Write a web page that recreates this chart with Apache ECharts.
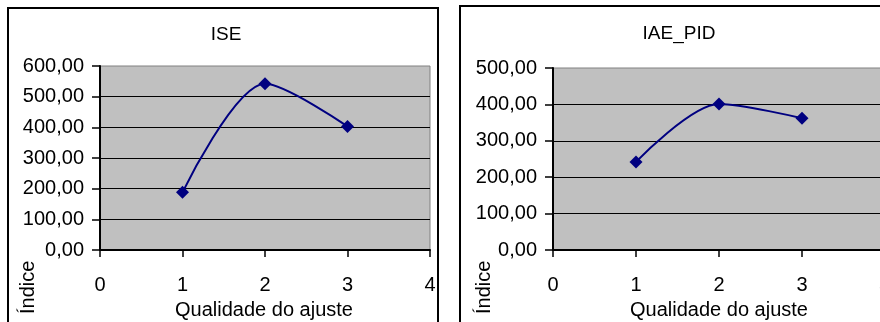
<!DOCTYPE html>
<html>
<head>
<meta charset="utf-8">
<script src="https://cdn.jsdelivr.net/npm/echarts@6/dist/echarts.min.js"></script>
<style>
  html, body { margin: 0; padding: 0; background: #fff; }
  #chart { width: 880px; height: 322px; }
</style>
</head>
<body>
<div id="chart"></div>
<script>
// ---- data ----
const xQuality = [1, 2, 3];
const iseValues = [188, 542, 403];
const iaeValues = [242, 401, 362];
const titles = ['ISE', 'IAE_PID'];
const xAxisName = 'Qualidade do ajuste';
const yAxisName = 'Índice';
const yMaxes = [600, 500];

const FONT = '"Liberation Sans", Arial, sans-serif';
const fmt = v => v.toFixed(2).replace('.', ',');

function xAxis(gridIndex) {
  return {
    type: 'value', gridIndex, min: 0, max: 4, interval: 1,
    axisLine: { show: true, onZero: false, lineStyle: { color: '#000', width: 2 } },
    axisTick: { show: true, inside: false, length: 7, lineStyle: { color: '#000', width: 1.5 } },
    axisLabel: { color: '#000', fontFamily: FONT, fontSize: 20, margin: 25, hideOverlap: false },
    splitLine: { show: false }
  };
}
function yAxis(gridIndex, max) {
  return {
    type: 'value', gridIndex, min: 0, max, interval: 100,
    axisLine: { show: true, lineStyle: { color: '#000', width: 2 } },
    axisTick: { show: true, inside: false, length: 8, lineStyle: { color: '#000', width: 1.5 } },
    axisLabel: { color: '#000', fontFamily: FONT, fontSize: 20, margin: 16, formatter: fmt },
    splitLine: { show: true, showMinLine: false, showMaxLine: false, lineStyle: { color: '#000', width: 1 } }
  };
}
function series(idx, vals) {
  return {
    type: 'line', xAxisIndex: idx, yAxisIndex: idx,
    data: xQuality.map((x, i) => [x, vals[i]]),
    smooth: 0.3,
    symbol: 'diamond', symbolSize: 13, showSymbol: true,
    lineStyle: { color: '#000080', width: 2 },
    itemStyle: { color: '#000080' },
    clip: false,
    silent: true, animation: false
  };
}

const chart = echarts.init(document.getElementById('chart'), null, { renderer: 'canvas' });
chart.setOption({
  animation: false,
  backgroundColor: '#fff',
  grid: [
    { left: 100, top: 66, width: 330, height: 184, containLabel: false, outerBoundsMode: 'none', show: true, backgroundColor: '#C0C0C0', borderColor: '#808080', borderWidth: 1 },
    { left: 553, top: 68, width: 332, height: 182, containLabel: false, outerBoundsMode: 'none', show: true, backgroundColor: '#C0C0C0', borderColor: '#808080', borderWidth: 1 }
  ],
  xAxis: [xAxis(0), xAxis(1)],
  yAxis: [yAxis(0, yMaxes[0]), yAxis(1, yMaxes[1])],
  series: [series(0, iseValues), series(1, iaeValues)],
  graphic: [
    { type: 'rect', shape: { x: 8, y: 8, width: 430, height: 340 }, style: { fill: 'none', stroke: '#000', lineWidth: 2 }, z: 100 },
    { type: 'rect', shape: { x: 460, y: 6, width: 440, height: 340 }, style: { fill: 'none', stroke: '#000', lineWidth: 2 }, z: 100 },
    { type: 'text', x: 226, y: 35, style: { text: titles[0], font: '19px ' + FONT, fill: '#000', align: 'center', verticalAlign: 'middle' } },
    { type: 'text', x: 679, y: 34, style: { text: titles[1], font: '19px ' + FONT, fill: '#000', align: 'center', verticalAlign: 'middle' } },
    { type: 'text', x: 264, y: 310, style: { text: xAxisName, font: '20px ' + FONT, fill: '#000', align: 'center', verticalAlign: 'middle' } },
    { type: 'text', x: 719, y: 310, style: { text: xAxisName, font: '20px ' + FONT, fill: '#000', align: 'center', verticalAlign: 'middle' } },
    { type: 'text', x: 28, y: 314, rotation: Math.PI / 2, style: { text: yAxisName, font: '20px ' + FONT, fill: '#000', align: 'left', verticalAlign: 'middle' } },
    { type: 'text', x: 484, y: 314, rotation: Math.PI / 2, style: { text: yAxisName, font: '20px ' + FONT, fill: '#000', align: 'left', verticalAlign: 'middle' } }
  ]
});
</script>
</body>
</html>
